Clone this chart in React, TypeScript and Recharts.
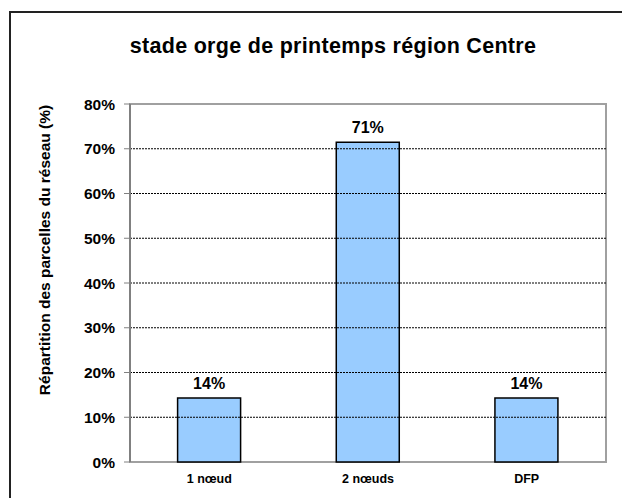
import React from "react";
import {
  BarChart,
  Bar,
  XAxis,
  YAxis,
  LabelList,
  ReferenceLine,
  ReferenceArea,
  Label,
} from "recharts";

const categories = ["1 nœud", "2 nœuds", "DFP"];
const shares = [14.29, 71.43, 14.29];
const yTicks = [0, 10, 20, 30, 40, 50, 60, 70, 80];
const gridValues = [10, 20, 30, 40, 50, 60, 70];
const boundaryTicks = [0, 1, 2, 3];
const title = "stade orge de printemps région Centre";
const yLabel = "Répartition des parcelles du réseau (%)";

const data = categories.map((c, i) => ({ name: c, value: shares[i] }));

const FONT = "'Liberation Sans', Arial, sans-serif";

function YTitle(props: any) {
  const vb = props.viewBox || { x: 0, y: 0, width: 0, height: 0 };
  const cx = vb.x + 44;
  const cy = vb.y + vb.height / 2 - 33;
  return (
    <text
      x={cx}
      y={cy}
      transform={`rotate(-90, ${cx}, ${cy})`}
      textAnchor="middle"
      dominantBaseline="central"
      fill="#000"
      fontSize={15.5}
      fontWeight="bold"
      fontFamily={FONT}
    >
      {yLabel}
    </text>
  );
}

export default function App() {
  return (
    <div
      style={{
        position: "absolute",
        left: 0,
        top: 0,
        width: 622,
        height: 498,
        overflow: "hidden",
        background: "#fff",
        fontFamily: FONT,
      }}
    >
      <div
        style={{
          position: "absolute",
          left: 9,
          top: 11,
          width: 800,
          height: 800,
          border: "2px solid #222",
          boxSizing: "border-box",
        }}
      />
      <div
        style={{
          position: "absolute",
          left: 0,
          top: 32,
          width: 666,
          textAlign: "center",
          fontWeight: "bold",
          fontSize: 21.5,
          lineHeight: "28px",
          color: "#000",
          letterSpacing: 0.3,
        }}
      >
        {title}
      </div>
      <div style={{ position: "absolute", left: 0, top: 0 }}>
        <BarChart
          width={622}
          height={498}
          data={data}
          margin={{ top: 104, right: 16, bottom: 6, left: 0 }}
          barCategoryGap="30%"
        >
          <XAxis
            xAxisId="b"
            type="number"
            domain={[0, 3]}
            ticks={boundaryTicks}
            allowDataOverflow
            height={0}
            tickSize={6}
            tick={() => <g />}
            axisLine={{ stroke: "#808080", strokeWidth: 2 }}
            tickLine={{ stroke: "#808080", strokeWidth: 1 }}
          />
          <XAxis
            dataKey="name"
            height={30}
            axisLine={false}
            tickLine={false}
            tickSize={0}
            tickMargin={12}
            tick={{ fill: "#000", fontSize: 12.5, fontWeight: "bold", fontFamily: FONT }}
          />
          <YAxis
            width={130}
            domain={[0, 80]}
            ticks={yTicks}
            interval={0}
            tickFormatter={(v: number) => `${v}%`}
            tickSize={6}
            tickMargin={9}
            axisLine={{ stroke: "#808080", strokeWidth: 2 }}
            tickLine={{ stroke: "#808080", strokeWidth: 1 }}
            tick={{ fill: "#000", fontSize: 15.5, fontWeight: "bold", fontFamily: FONT }}
          >
            <Label content={<YTitle />} />
          </YAxis>
          {gridValues.map((v) => (
            <ReferenceLine
              key={v}
              y={v}
              stroke="#000"
              strokeWidth={1}
              strokeDasharray="2 1"
              ifOverflow="visible"
            />
          ))}
          <ReferenceArea
            y1={0}
            y2={80}
            fill="none"
            stroke="#a0a0a0"
            strokeWidth={2}
            ifOverflow="visible"
          />
          <Bar
            dataKey="value"
            fill="#99CCFF"
            stroke="#000"
            strokeWidth={1.5}
            isAnimationActive={false}
          >
            <LabelList
              dataKey="value"
              position="top"
              offset={9}
              formatter={(v: number) => `${Math.round(v)}%`}
              style={{ fill: "#000", fontSize: 16, fontWeight: "bold", fontFamily: FONT }}
            />
          </Bar>
        </BarChart>
      </div>
    </div>
  );
}
